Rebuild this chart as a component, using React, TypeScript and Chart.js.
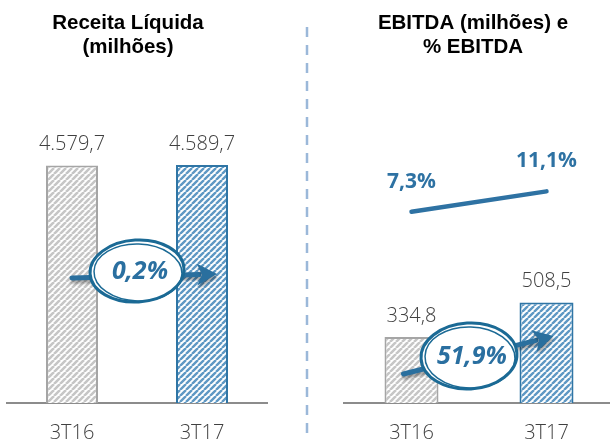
import React, { useEffect, useRef } from "react";
import { Chart, registerables } from "chart.js";

Chart.register(...registerables);

const categories = ["3T16", "3T17"];
const receitaValues = [4579.7, 4589.7];
const ebitdaValues = [334.8, 508.5];
const margemValues = [7.3, 11.1];
const receitaGrowth = "0,2%";
const ebitdaGrowth = "51,9%";
const receitaTitle = ["Receita Líquida", "(milhões)"];
const ebitdaTitle = ["EBITDA (milhões) e", "% EBITDA"];

const W = 614;
const H = 439;
const BLUE = "#2e72a3";
const DARK_BLUE = "#1b6a95";

function fmtNumber(v: number): string {
  const [i, d] = v.toFixed(1).split(".");
  const withDots = i.replace(/\B(?=(\d{3})+(?!\d))/g, ".");
  return withDots + "," + d;
}
function fmtPct(v: number): string {
  return v.toFixed(1).replace(".", ",") + "%";
}

function makePattern(ctx: CanvasRenderingContext2D, stripe: string, size: number, lw: number) {
  const tile = document.createElement("canvas");
  tile.width = size;
  tile.height = size;
  const c = tile.getContext("2d")!;
  c.fillStyle = "#ffffff";
  c.fillRect(0, 0, size, size);
  c.strokeStyle = stripe;
  c.lineWidth = lw;
  c.beginPath();
  for (let k = -1; k <= 1; k++) {
    c.moveTo(k * size, size);
    c.lineTo(k * size + size, 0);
  }
  c.stroke();
  return ctx.createPattern(tile, "repeat")!;
}

function drawArrow(ctx: CanvasRenderingContext2D, x0: number, y0: number, x1: number, y1: number) {
  const ang = Math.atan2(y1 - y0, x1 - x0);
  const len = 20;
  const hw = 11;
  const bx = x1 - Math.cos(ang) * len;
  const by = y1 - Math.sin(ang) * len;
  ctx.save();
  ctx.shadowColor = "rgba(0,0,0,0.35)";
  ctx.shadowOffsetY = 3;
  ctx.shadowOffsetX = 1;
  ctx.shadowBlur = 3;
  ctx.strokeStyle = "#2a6f9e";
  ctx.fillStyle = "#2a6f9e";
  ctx.lineWidth = 5;
  ctx.lineCap = "round";
  ctx.beginPath();
  ctx.moveTo(x0, y0);
  ctx.lineTo(bx + Math.cos(ang) * 2, by + Math.sin(ang) * 2);
  ctx.stroke();
  ctx.beginPath();
  ctx.moveTo(x1, y1);
  ctx.lineTo(bx - Math.sin(ang) * hw, by + Math.cos(ang) * hw);
  ctx.lineTo(bx + Math.cos(ang) * 5, by + Math.sin(ang) * 5);
  ctx.lineTo(bx + Math.sin(ang) * hw, by - Math.cos(ang) * hw);
  ctx.closePath();
  ctx.fill();
  ctx.restore();
}

function drawBadge(ctx: CanvasRenderingContext2D, cx: number, cy: number, rx: number, ry: number, text: string) {
  ctx.save();
  ctx.fillStyle = "#ffffff";
  ctx.strokeStyle = DARK_BLUE;
  ctx.beginPath();
  ctx.ellipse(cx, cy, rx, ry, -0.06, 0, Math.PI * 2);
  ctx.fill();
  ctx.lineWidth = 3;
  ctx.stroke();
  ctx.lineWidth = 1.5;
  ctx.beginPath();
  ctx.ellipse(cx + 1, cy + 1.5, rx - 3, ry - 2.5, 0.03, 0, Math.PI * 2);
  ctx.stroke();
  ctx.fillStyle = "#2a6fa0";
  ctx.font = 'italic bold 25px "Open Sans"';
  ctx.textAlign = "center";
  ctx.textBaseline = "middle";
  ctx.fillText(text, cx + 3, cy + 1);
  ctx.restore();
}

function drawTitle(ctx: CanvasRenderingContext2D, lines: string[], cx: number, y0: number) {
  ctx.save();
  ctx.fillStyle = "#000000";
  ctx.font = 'bold 20.5px "Liberation Sans"';
  ctx.textAlign = "center";
  ctx.textBaseline = "middle";
  lines.forEach((l, i) => ctx.fillText(l, cx, y0 + i * 24.5));
  ctx.restore();
}

const barLabelPlugin = {
  id: "barLabels",
  afterDatasetsDraw(chart: any) {
    const ctx = chart.ctx;
    chart.data.datasets.forEach((ds: any, di: number) => {
      const meta = chart.getDatasetMeta(di);
      meta.data.forEach((el: any, i: number) => {
        const v = ds.data[i];
        ctx.save();
        ctx.textAlign = "center";
        ctx.textBaseline = "middle";
        if (meta.type === "line") {
          ctx.font = 'bold 21px "Open Sans"';
          ctx.fillStyle = BLUE;
          ctx.fillText(fmtPct(v), el.x, el.y - 30);
        } else {
          ctx.font = '300 20px "Open Sans"';
          ctx.fillStyle = "#404040";
          ctx.fillText(fmtNumber(v), el.x, el.y - 21);
        }
        ctx.restore();
      });
    });
  },
};

export default function App() {
  const leftRef = useRef<HTMLCanvasElement>(null);
  const rightRef = useRef<HTMLCanvasElement>(null);

  useEffect(() => {
    document.body.style.margin = "0";
    const lctx = leftRef.current!.getContext("2d")!;
    const rctx = rightRef.current!.getContext("2d")!;
    const grayPat = makePattern(lctx, "#c6c6c6", 6, 2.6);
    const bluePat = makePattern(lctx, "#5e98c4", 6, 2.4);
    const grayPat2 = makePattern(rctx, "#c6c6c6", 6, 2.6);
    const bluePat2 = makePattern(rctx, "#5e98c4", 6, 2.4);

    const xScale = {
      grid: { display: false, drawTicks: false },
      border: { display: true, color: "#8c8c8c", width: 2 },
      ticks: { color: "#404040", font: { family: "Open Sans", size: 20, weight: 300 as any }, padding: 18 },
    };

    const leftDecor = {
      id: "leftDecor",
      afterDraw(chart: any) {
        const ctx = chart.ctx;
        drawTitle(ctx, receitaTitle, 128, 23);
        ctx.save();
        ctx.strokeStyle = "#9bb8d9";
        ctx.lineWidth = 2.5;
        ctx.setLineDash([10, 8]);
        ctx.beginPath();
        ctx.moveTo(307, 27);
        ctx.lineTo(307, H);
        ctx.stroke();
        ctx.restore();
        const m = chart.getDatasetMeta(0).data;
        const base = chart.chartArea.bottom;
        drawArrow(ctx, m[0].x, base - 125, m[1].x + 15, base - 129);
        drawBadge(ctx, (m[0].x + m[1].x) / 2, base - 132, 47, 31, receitaGrowth);
      },
    };

    const rightDecor = {
      id: "rightDecor",
      afterDraw(chart: any) {
        const ctx = chart.ctx;
        drawTitle(ctx, ebitdaTitle, 473, 23);
        const m = chart.getDatasetMeta(1).data;
        const base = chart.chartArea.bottom;
        drawArrow(ctx, m[0].x - 8, base - 29, m[1].x + 7, base - 67);
        drawBadge(ctx, (m[0].x + m[1].x) / 2 - 10, base - 47, 48, 33, ebitdaGrowth);
      },
    };

    const left = new Chart(leftRef.current!, {
      type: "bar",
      data: {
        labels: categories,
        datasets: [
          {
            data: receitaValues,
            backgroundColor: [grayPat, bluePat],
            borderColor: ["#a5a5a5", "#2f75a5"],
            borderWidth: 2,
            barPercentage: 0.8,
            categoryPercentage: 0.5,
          },
        ],
      },
      options: {
        responsive: false,
        animation: false,
        layout: { padding: { left: 7, right: W - 267, top: 92, bottom: -24 } },
        plugins: { legend: { display: false }, tooltip: { enabled: false } },
        scales: {
          x: xScale as any,
          y: { display: false, min: 0, max: 6000 },
        },
      },
      plugins: [barLabelPlugin, leftDecor],
    });

    const right = new Chart(rightRef.current!, {
      type: "bar",
      data: {
        labels: categories,
        datasets: [
          {
            type: "line",
            data: margemValues,
            yAxisID: "y2",
            borderColor: BLUE,
            borderWidth: 4.5,
            pointRadius: 0,
            borderCapStyle: "round",
            order: 0,
          } as any,
          {
            type: "bar",
            data: ebitdaValues,
            yAxisID: "y",
            backgroundColor: [grayPat2, bluePat2],
            borderColor: ["#a5a5a5", "#2f75a5"],
            borderWidth: 2,
            barPercentage: 0.8,
            categoryPercentage: 0.5,
            order: 1,
          },
        ],
      },
      options: {
        responsive: false,
        animation: false,
        layout: { padding: { left: 344, right: 0, top: 92, bottom: -24 } },
        plugins: { legend: { display: false }, tooltip: { enabled: false } },
        scales: {
          x: xScale as any,
          y: { display: false, min: 0, max: 1575 },
          y2: { display: false, min: -28.5, max: 29.7 },
        },
      },
      plugins: [barLabelPlugin, rightDecor],
    });

    return () => {
      left.destroy();
      right.destroy();
    };
  }, []);

  return (
    <div style={{ position: "relative", width: 610, height: 439, overflow: "hidden", background: "#fff" }}>
      <canvas ref={leftRef} width={W} height={H} style={{ position: "absolute", left: 0, top: 0 }} />
      <canvas ref={rightRef} width={W} height={H} style={{ position: "absolute", left: 0, top: 0 }} />
    </div>
  );
}
